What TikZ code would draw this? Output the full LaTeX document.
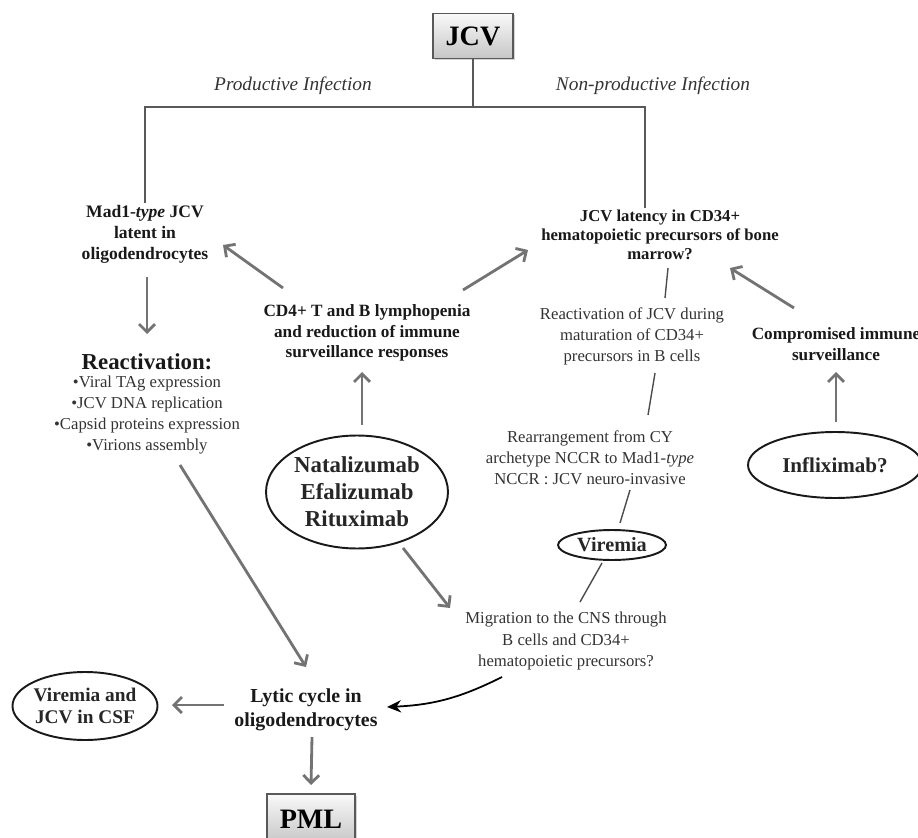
\documentclass[tikz,border=0pt]{standalone}
\usepackage{fontspec}
\setmainfont{Liberation Serif}
\usetikzlibrary{arrows.meta,shapes.geometric,shadows,calc,positioning}

\tikzset{
  mainbox/.style={draw=black!65, line width=0.8pt, top color=gray!5, bottom color=gray!45,
    minimum width=1.6cm, minimum height=0.9cm, font=\fontsize{16}{18}\selectfont\bfseries,
    drop shadow={opacity=0.35, shadow xshift=1pt, shadow yshift=-1pt}},
  infect/.style={font=\fontsize{11}{13}\selectfont\itshape, text=black!80},
  boldtxt/.style={align=center, inner sep=1pt, text=black!90, font=\fontsize{9.8}{11.7}\selectfont\bfseries},
  plaintxt/.style={align=center, inner sep=1pt, text=black!80, font=\fontsize{9.5}{12}\selectfont},
  drug/.style={ellipse, draw=black!90, line width=1.1pt, inner sep=0pt, align=center, text=black!85},
  garrow/.style={draw=black!55, line width=1.6pt, -{Straight Barb[length=4.5pt,width=9pt]}},
  link/.style={draw=black!70, line width=0.8pt},
  tree/.style={draw=black!65, line width=1.6pt},
}

\begin{document}
\begin{tikzpicture}[x=0.02cm, y=-0.02cm]
\useasboundingbox (0,0) rectangle (918,837);

\node[mainbox] (jcv) at (473,36) {JCV};
\node[infect] (prod) at (293,86) {Productive Infection};
\node[infect] (nonprod) at (653,86) {Non-productive Infection};

\node[boldtxt, font=\fontsize{10}{12}\selectfont\bfseries] (mad) at (145,234) {Mad1-\textit{type} JCV\\latent in\\oligodendrocytes};
\node[boldtxt, font=\fontsize{9.5}{11}\selectfont\bfseries] (lat) at (660,235) {JCV latency in CD34+\\hematopoietic precursors of bone\\marrow?};

\coordinate (fork) at (473,107);
\draw[tree] (jcv) -- (fork);
\draw[tree] (mad.north) |- (fork) -| ($(lat.north)+(-15,0)$);

\node[boldtxt, font=\fontsize{13}{15}\selectfont\bfseries] (rtitle) at (147,362) {Reactivation:};
\node[plaintxt] (rlist) at (147,415) {•Viral TAg expression\\•JCV DNA replication\\•Capsid proteins expression\\•Virions assembly};

\node[boldtxt] (cd4) at (367,333) {CD4+ T and B lymphopenia\\and reduction of immune\\surveillance responses};
\node[plaintxt] (reactjcv) at (632,336) {Reactivation of JCV during\\maturation of CD34+\\precursors in B cells};
\node[plaintxt] (rearr) at (590,458) {Rearrangement from CY\\archetype NCCR to Mad1-\textit{type}\\NCCR : JCV neuro-invasive};
\node[drug, minimum width=2.16cm, minimum height=0.6cm, font=\fontsize{11.5}{13}\selectfont\bfseries] (vir) at (612,545) {Viremia};
\node[plaintxt] (mig) at (566,641) {Migration to the CNS through\\B cells and CD34+\\hematopoietic precursors?};

\node[boldtxt, font=\fontsize{9.8}{11.7}\selectfont\bfseries] (comp) at (836,344) {Compromised immune\\surveillance};
\node[drug, minimum width=3.48cm, minimum height=1.32cm, font=\fontsize{12}{14}\selectfont\bfseries] (inflix) at (835,465) {Infliximab?};

\node[drug, minimum width=3.64cm, minimum height=2.26cm, font=\fontsize{13}{15.4}\selectfont\bfseries] (nat) at (357,492) {Natalizumab\\Efalizumab\\Rituximab};

\node[boldtxt, font=\fontsize{11.3}{13.5}\selectfont\bfseries] (lytic) at (306,710) {Lytic cycle in\\oligodendrocytes};
\node[drug, minimum width=2.9cm, minimum height=1.36cm, font=\fontsize{11}{13}\selectfont\bfseries] (csf) at (85,706) {Viremia and\\JCV in CSF};
\node[mainbox, minimum width=1.76cm, minimum height=1cm] (pml) at (311,819) {PML};

% gray arrows
\draw[garrow] (mad.south) ++(2,12) -- ($(rtitle)+(0,-28)$);
\draw[garrow] ($(cd4)+(-84,-45)$) -- ($(mad)+(78,11)$);
\draw[garrow] ($(cd4)+(96,-43)$) -- ($(lat)+(-132,15)$);
\draw[garrow] ($(nat)+(5,-67)$) -- ($(cd4)+(-5,39)$);
\draw[garrow] ($(nat)+(46,56)$) -- ($(mig)+(-116,-33)$);
\draw[garrow] ($(comp)+(-42,-36)$) -- ($(lat)+(70,33)$);
\draw[garrow] ($(inflix)+(1,-43)$) -- ($(comp)+(0,28)$);
\draw[garrow] ($(rlist)+(33,50)$) -- ($(lytic)+(0,-43)$);
\draw[garrow] ($(lytic)+(-82,-5)$) -- ($(csf)+(87,-1)$);
\draw[garrow] ($(lytic)+(6,27)$) -- ($(pml)+(0,-34)$);

% thin links on the latency path
\draw[link] ($(lat)+(8,33)$) -- ($(reactjcv)+(33,-38)$);
\draw[link] ($(reactjcv)+(23,37)$) -- ($(rearr)+(58,-43)$);
\draw[link] ($(rearr)+(40,32)$) -- ($(vir)+(8,-22)$);
\draw[link] ($(vir)+(-10,18)$) -- ($(mig)+(14,-39)$);

\draw[line width=1pt, -{Stealth[length=8pt,width=7pt]}] ($(mig)+(-64,36)$) to[bend left=12] ($(lytic)+(81,-3)$);
\end{tikzpicture}
\end{document}
